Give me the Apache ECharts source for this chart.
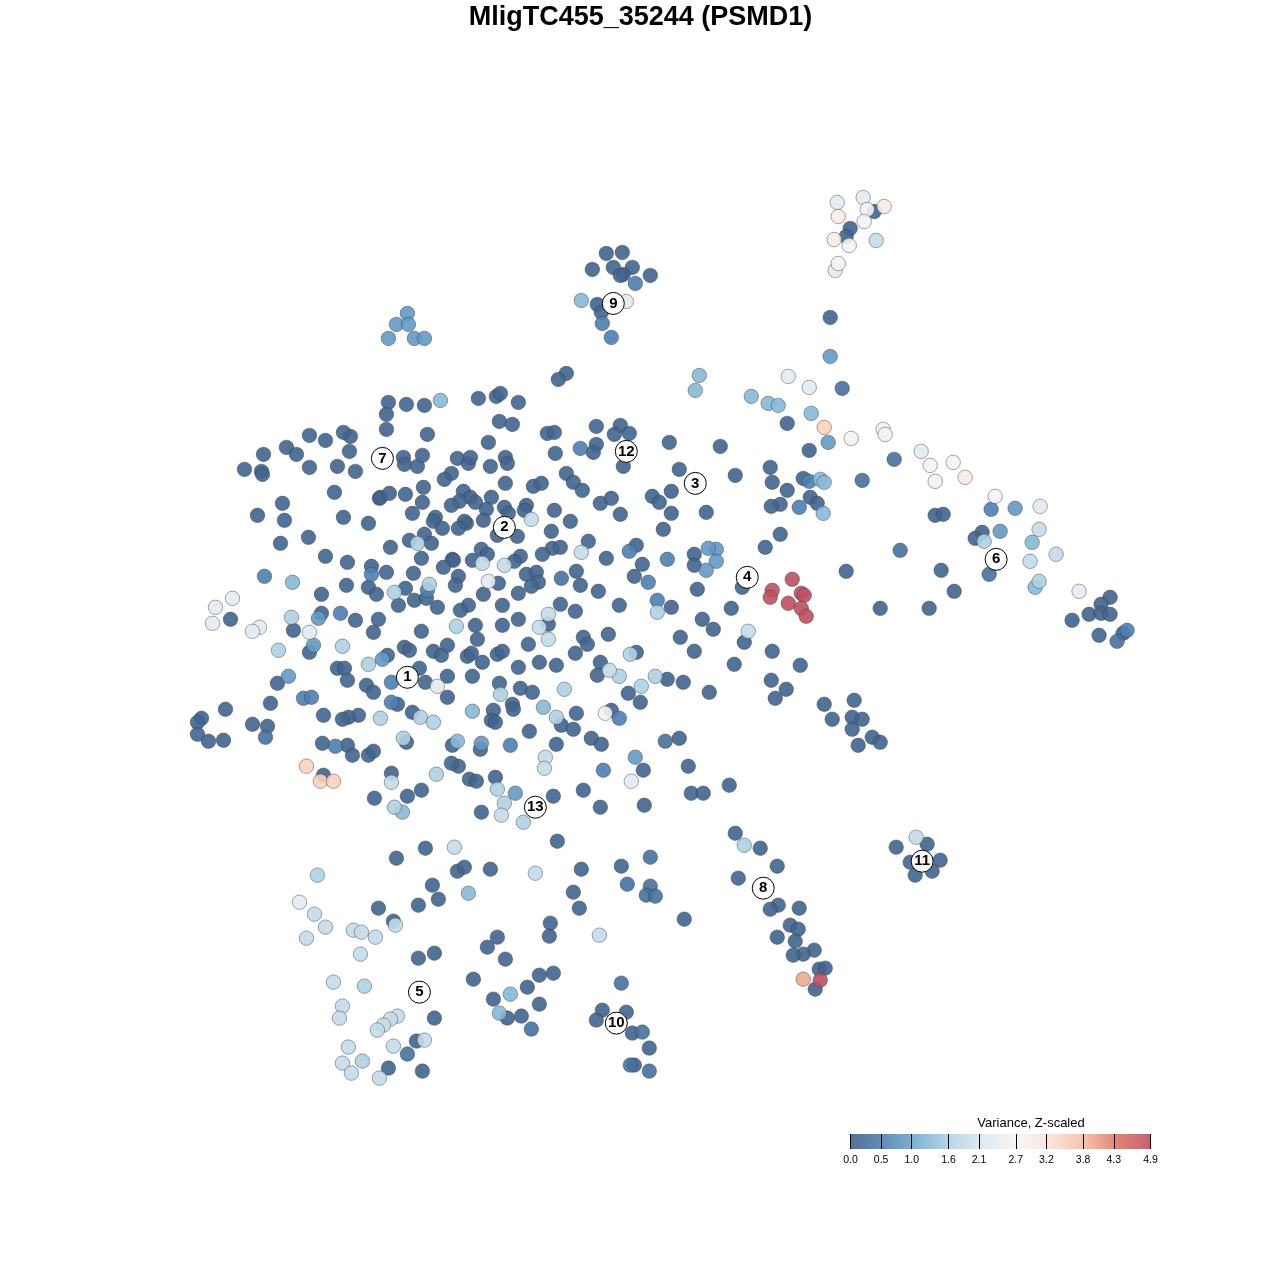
<!DOCTYPE html>
<html><head><meta charset="utf-8">
<style>html,body{margin:0;padding:0;background:#fff}#c{width:1280px;height:1280px}</style>
<script src="https://cdn.jsdelivr.net/npm/echarts@6/dist/echarts.min.js"></script>
</head><body><div id="c"></div>
<script>
const titleText = "MligTC455_35244 (PSMD1)";
const legendTitle = "Variance, Z-scaled";
const tickValues = [0.0,0.5,1.0,1.6,2.1,2.7,3.2,3.8,4.3,4.9];
const rampColors = ["#3F628B","#4D82B5","#74ADD2","#B2D4E4","#DCE8F1","#F5F5F5","#FCE0D3","#F6BCA0","#DC7663","#BE5060"];

// t-SNE coordinates grouped by variance level
const levelDark = [[388,402],[406,404],[424,405],[386,414],[386,429],[309,435],[325,440],[350,436],[343,432],[349,451],[263,454],[286,447],[296,454],[403,457],[404,464],[417,466],[422,455],[244,469],[261,471],[262,474],[309,467],[337,466],[355,471],[334,492],[379,498],[380,497],[389,493],[405,494],[422,502],[423,487],[282,503],[257,515],[284,520],[343,517],[368,523],[412,513],[308,537],[280,543],[390,547],[409,540],[325,556],[347,562],[371,566],[386,572],[413,573],[421,558],[346,585],[368,587],[376,594],[321,594],[405,588],[398,605],[414,600],[321,613],[230,619],[355,620],[378,619],[277,683],[270,703],
[478,398],[496,396],[500,393],[518,402],[499,421],[512,424],[427,434],[488,442],[547,433],[554,432],[596,426],[620,425],[614,434],[629,433],[555,453],[596,444],[593,452],[457,458],[468,463],[470,457],[490,466],[505,457],[507,463],[623,466],[566,473],[573,482],[582,490],[451,473],[444,479],[505,483],[533,486],[541,483],[463,491],[470,497],[475,502],[491,497],[459,501],[451,505],[486,509],[504,507],[508,513],[526,505],[524,510],[554,510],[600,503],[611,498],[620,514],[652,496],[659,502],[570,521],[435,517],[433,521],[466,523],[464,521],[458,528],[442,528],[483,520],[497,535],[517,536],[551,531],[424,534],[431,543],[588,541],[552,548],[560,547],[542,554],[636,545],[606,558],[642,564],[481,549],[487,554],[452,559],[453,560],[472,560],[520,556],[514,561],[443,567],[526,574],[536,572],[538,582],[531,586],[576,571],[634,576],[458,576],[455,585],[498,583],[580,585],[483,594],[518,593],[598,591],[426,598],[437,607],[468,605],[460,610],[502,605],[560,604],[575,611],[619,605],
[293,630],[373,632],[421,631],[309,652],[387,655],[404,647],[409,650],[337,668],[344,668],[347,680],[366,685],[373,692],[225,709],[201,718],[197,722],[197,734],[208,741],[223,740],[252,724],[267,726],[323,715],[358,715],[348,717],[342,719],[397,704],[412,712],[322,743],[347,745],[352,755],[368,755],[373,751],[406,742],[419,668],[323,775],[391,773],[374,798],[407,796],[421,790],
[475,625],[502,625],[518,619],[548,624],[477,639],[528,644],[608,634],[583,637],[587,644],[433,651],[441,655],[447,645],[467,656],[471,653],[482,662],[497,654],[502,651],[539,662],[556,665],[575,653],[518,667],[636,652],[600,662],[597,675],[447,676],[472,676],[425,682],[499,683],[520,688],[532,692],[447,697],[628,693],[640,702],[493,710],[512,704],[513,709],[491,720],[495,722],[576,713],[611,710],[561,725],[573,729],[529,731],[452,745],[480,749],[556,744],[591,738],[601,744],[458,766],[451,763],[469,779],[476,781],[495,777],[643,770],[553,796],[583,790],[481,812],[600,807],[644,805],[557,841],
[606,253],[622,252],[592,269],[613,267],[632,267],[623,274],[620,275],[650,275],[597,304],[601,312],[566,373],[558,379],
[874,211],[850,228],[846,236],[830,317],[787,423],
[669,442],[720,446],[809,450],[679,469],[735,475],[770,467],[772,482],[787,490],[803,478],[671,491],[671,513],[706,512],[810,497],[817,503],[780,504],[771,506],[663,529],[780,534],[765,547],[694,554],[694,565],[742,587],[697,589],[846,571],[671,607],[731,608],[880,608],[702,619],[713,629],[680,637],[744,642],[694,651],[772,651],[734,664],[800,665],
[935,515],[943,514],[982,532],[975,538],[941,570],[954,591],[929,608],[1110,597],[1101,604],[1089,614],[1101,613],[1110,614],[1072,620],[1099,635],[1123,633],
[667,679],[683,682],[709,692],[771,680],[786,689],[775,698],[824,704],[854,700],[832,719],[852,717],[862,719],[852,729],[872,737],[880,742],[858,745],[679,738],[688,766],[729,785],[691,793],[703,793],[735,833],[760,848],[777,866],[738,878],[778,905],[770,909],[799,908],[684,919],[790,925],[798,929],[777,937],[795,941],[814,950],[803,954],[793,955],[819,969],[825,968],[815,989],[896,847],[927,844],[910,862],[940,860],[932,871],[915,875],
[425,848],[396,858],[457,871],[464,867],[432,885],[438,899],[418,905],[378,908],[393,921],[434,953],[418,958],[473,979],[434,1018],[416,1041],[388,1068],[422,1071],
[490,869],[581,869],[621,866],[573,892],[579,908],[550,923],[549,936],[497,937],[487,947],[505,959],[553,973],[539,975],[527,987],[493,999],[539,1004],[521,1016],[507,1018],[602,1010],[626,1012],[596,1020],[632,1033],[649,1048],[634,1065]];
const levelSteel = [[561,578],[407,1054],[621,983],[665,741],[650,857],[627,884],[650,886],[265,737],[862,480],[630,1065],[531,1029],[642,1032],[894,459],[900,550],[989,574],[1117,641],[842,388],[646,895],[655,896],[649,1071]];
const levelMidBlue = [[371,574],[264,576],[340,613],[427,590],[580,448],[629,551],[648,582],[657,600],[391,682],[391,702],[335,746],[510,745],[619,718],[635,283],[809,481],[799,507],[667,559],[1127,630],[303,698],[311,697],[602,323],[611,337],[603,770],[991,509]];
const levelSky = [[407,313],[396,324],[408,324],[388,338],[414,338],[424,338],[716,549],[716,561],[706,570],[708,548],[1015,508],[1000,531],[635,757],[481,743],[515,793],[318,618],[313,645],[288,676],[382,659],[830,356],[828,442]];
const levelPale = [[440,400],[581,300],[699,375],[695,390],[751,396],[768,403],[778,405],[811,413],[820,479],[824,482],[823,513],[472,711],[543,707],[457,741],[468,893],[510,994],[499,1013],[292,582],[1032,542],[1035,587],[402,812]];
const levelLight = [[417,543],[394,592],[429,584],[291,617],[278,650],[368,664],[380,718],[420,717],[394,807],[456,626],[657,612],[619,676],[655,676],[500,694],[564,689],[556,717],[433,722],[436,774],[497,789],[504,803],[523,822],[744,845],[984,541],[1039,581],[364,986],[362,1061],[317,875],[342,646],[403,738],[630,654],[641,686]];
const levelMist = [[531,519],[581,552],[482,563],[504,565],[548,614],[539,627],[548,639],[609,670],[391,782],[545,757],[544,768],[501,815],[876,240],[748,631],[1039,529],[1056,554],[1030,561],[916,837],[454,847],[314,914],[325,927],[306,938],[353,930],[361,932],[375,937],[395,925],[360,954],[333,982],[342,1006],[339,1018],[397,1016],[390,1019],[383,1025],[377,1030],[424,1040],[393,1046],[348,1047],[342,1063],[351,1073],[379,1078],[535,873],[599,935]];
const levelIce = [[488,581],[232,598],[215,607],[212,623],[259,627],[252,631],[309,632],[437,686],[631,781],[299,902],[626,301],[837,202],[863,197],[835,270],[788,376],[809,387],[921,451],[1040,506],[1079,591]];
const levelWhite = [[867,209],[864,221],[849,245],[838,263],[883,429],[885,434],[851,438],[930,465],[953,462],[935,481],[995,496],[605,713]];
const levelCream = [[884,206],[838,216],[834,239],[965,477]];
const levelPeach = [[306,766],[320,781],[333,781],[824,427]];
const levelSalmon = [[803,979]];
const levelRed = [[792,579],[772,590],[770,597],[788,603],[801,593],[804,595],[801,608],[806,616],[820,980]];
const tinyMark = [[571,640]];

const clusterIds = ["1","2","3","4","5","6","7","8","9","10","11","12","13"];
const clusterX = [407,504,695,747,419,996,382,763,613,616,922,626,535];
const clusterY = [677,527,483,577,992,559,458,888,303,1023,861,451,807];

const groups = [[levelDark,0.05],[levelSteel,0.25],[levelMidBlue,0.5],[levelSky,0.85],[levelPale,1.25],[levelLight,1.6],[levelMist,1.85],[levelIce,2.3],[levelWhite,2.65],[levelCream,3.0],[levelPeach,3.5],[levelSalmon,3.95],[levelRed,4.9]];
const points = [];
groups.forEach(g => g[0].forEach(p => points.push([p[0],p[1],g[1]])));

const chart = echarts.init(document.getElementById('c'), null, {renderer:'canvas'});
const font = 'Liberation Sans';
chart.setOption({
  animation:false,
  backgroundColor:'#fff',
  textStyle:{fontFamily:font},
  graphic:[
    {type:'text',style:{text:titleText,x:640.5,y:18,align:'center',verticalAlign:'middle',fontFamily:font,fontWeight:'bold',fontSize:27,fill:'#000'}},
    {type:'text',style:{text:legendTitle,x:1031,y:1123,align:'center',verticalAlign:'middle',fontFamily:font,fontSize:13,fill:'#000'}}
  ],
  grid:[{left:0.6,top:0.6,width:1280,height:1280},{left:850.5,top:1134,width:300,height:15}],
  xAxis:[{gridIndex:0,type:'value',min:0,max:1280,show:false},
    {gridIndex:1,type:'value',min:0,max:4.9,z:10,splitLine:{show:false},
     axisLine:{show:false},
     axisTick:{show:true,inside:true,length:15,customValues:tickValues,lineStyle:{color:'#000',width:1}},
     axisLabel:{show:true,customValues:tickValues,margin:6,fontSize:10.5,color:'#000',fontFamily:font,formatter:v=>Number(v).toFixed(1),hideOverlap:false}}],
  yAxis:[{gridIndex:0,type:'value',min:0,max:1280,inverse:true,show:false},
    {gridIndex:1,type:'value',min:0,max:1,show:false}],
  visualMap:{show:false,type:'continuous',seriesIndex:0,dimension:2,min:0,max:4.9,inRange:{color:rampColors}},
  series:[
    {type:'scatter',xAxisIndex:0,yAxisIndex:0,data:points,symbolSize:14.5,z:2,
     itemStyle:{opacity:0.9,borderColor:'rgba(60,60,60,0.5)',borderWidth:1},emphasis:{disabled:true}},
    {type:'scatter',xAxisIndex:0,yAxisIndex:0,data:tinyMark,symbolSize:1,z:2,itemStyle:{color:'#375B85'},silent:true},
    {type:'scatter',xAxisIndex:0,yAxisIndex:0,z:5,symbolSize:22,silent:true,
     data:clusterIds.map((t,i)=>({value:[clusterX[i],clusterY[i]],name:t})),
     itemStyle:{color:'#fff',opacity:1,borderColor:'#000',borderWidth:1},
     label:{show:true,position:'inside',formatter:'{b}',fontFamily:font,fontWeight:'bold',fontSize:15,color:'#000'}},
    {type:'custom',xAxisIndex:1,yAxisIndex:1,z:1,silent:true,clip:false,data:[[0,4.9]],
     encode:{x:[0,1]},
     renderItem:function(params,api){
       const a=api.coord([api.value(0),1]), b=api.coord([api.value(1),0]);
       return {type:'rect',shape:{x:a[0],y:a[1],width:b[0]-a[0],height:b[1]-a[1]},
         style:{opacity:0.9,fill:new echarts.graphic.LinearGradient(0,0,1,0,rampColors.map((c,i)=>({offset:i/(rampColors.length-1),color:c})))}};
     }}
  ]
});
</script></body></html>
